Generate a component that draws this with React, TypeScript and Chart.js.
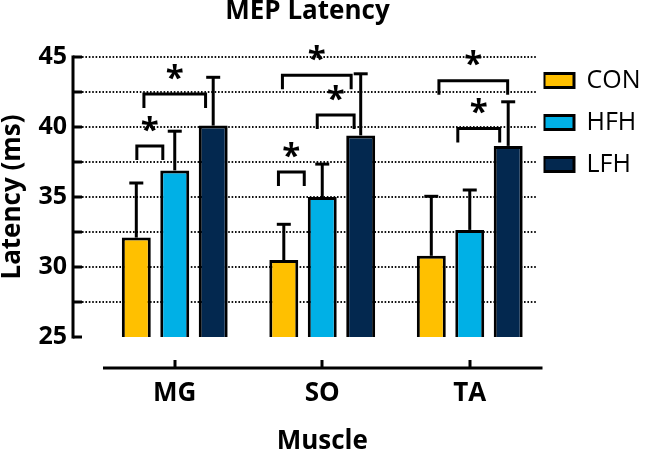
import React, { useEffect, useRef } from 'react';
import { Chart, registerables } from 'chart.js';

Chart.register(...registerables);

// ---------- data ----------
const categories = ['MG', 'SO', 'TA'];
const seriesNames = ['CON', 'HFH', 'LFH'];
const conMean = [32.1, 30.5, 30.8];
const hfhMean = [36.9, 35.0, 32.65];
const lfhMean = [40.1, 39.4, 38.65];
const conSD = [3.9, 2.55, 4.25];
const hfhSD = [2.8, 2.35, 2.85];
const lfhSD = [3.45, 4.4, 3.15];
const seriesColors = ['#FFC000', '#00B0E6', '#03284F'];

const yMin = 25;
const yMax = 45;
const yStep = 5;
const gridValues = [27.5, 30, 32.5, 35, 37.5, 40, 42.5, 45];
const axisTickValues = [25, 27.5, 30, 32.5, 35, 37.5, 40, 42.5, 45];

// significance brackets: category index, start/end offset (category units), bracket level
const sigCategory = [0, 0, 1, 1, 1, 2, 2];
const sigStart = [-0.257, -0.209, -0.297, -0.034, -0.27, -0.081, -0.209];
const sigEnd = [-0.081, 0.209, -0.122, 0.216, 0.196, 0.203, 0.257];
const sigLevel = [38.64, 42.36, 36.79, 40.86, 43.7, 39.9, 43.3];
const sigText = ['*', '*', '*', '*', '*', '*', '*'];
const sigLeg = 1.0;
const sigStarGap = 1.6;

const FONT = "'Open Sans', sans-serif";

const annotPlugin = {
  id: 'annot',
  beforeDatasetsDraw(chart: any) {
    const { ctx, chartArea } = chart;
    const x = chart.scales.x;
    const y = chart.scales.y;
    const axisX = chartArea.left - 28;
    ctx.save();
    // dotted grid
    ctx.strokeStyle = '#111';
    ctx.lineWidth = 2;
    ctx.setLineDash([1.6, 1.8]);
    for (const v of gridValues) {
      const py = Math.round(y.getPixelForValue(v));
      ctx.beginPath();
      ctx.moveTo(axisX + 9, py);
      ctx.lineTo(chartArea.right - 6, py);
      ctx.stroke();
    }
    ctx.setLineDash([]);
    // y axis
    ctx.strokeStyle = '#000';
    ctx.lineWidth = 3;
    ctx.beginPath();
    ctx.moveTo(axisX, y.getPixelForValue(yMax) - 1.5);
    ctx.lineTo(axisX, y.getPixelForValue(yMin) + 1.5);
    ctx.stroke();
    for (const v of axisTickValues) {
      const py = Math.round(y.getPixelForValue(v));
      ctx.beginPath();
      ctx.moveTo(axisX, py);
      ctx.lineTo(axisX + 9, py);
      ctx.stroke();
    }
    // x axis
    const axisY = chartArea.bottom + 31;
    ctx.beginPath();
    ctx.moveTo(chartArea.left + 2, axisY);
    ctx.lineTo(chartArea.right - 1, axisY);
    ctx.stroke();
    categories.forEach((_, i) => {
      const px = Math.round(x.getPixelForValue(i));
      ctx.beginPath();
      ctx.moveTo(px, axisY);
      ctx.lineTo(px, axisY - 8);
      ctx.stroke();
    });
    ctx.restore();
  },
  afterDatasetsDraw(chart: any) {
    const { ctx } = chart;
    const x = chart.scales.x;
    const y = chart.scales.y;
    const sds = [conSD, hfhSD, lfhSD];
    const means = [conMean, hfhMean, lfhMean];
    ctx.save();
    ctx.strokeStyle = '#000';
    ctx.fillStyle = '#000';
    ctx.lineWidth = 3;
    // error bars
    sds.forEach((sd, di) => {
      const meta = chart.getDatasetMeta(di);
      meta.data.forEach((el: any, i: number) => {
        const top = y.getPixelForValue(means[di][i] + sd[i]);
        ctx.beginPath();
        ctx.moveTo(el.x, el.y);
        ctx.lineTo(el.x, top);
        ctx.stroke();
        ctx.beginPath();
        ctx.moveTo(el.x - 7, top);
        ctx.lineTo(el.x + 7, top);
        ctx.stroke();
      });
    });
    // brackets + stars
    ctx.lineJoin = 'miter';
    ctx.font = `bold 33px ${FONT}`;
    ctx.textAlign = 'center';
    ctx.textBaseline = 'alphabetic';
    sigCategory.forEach((c, k) => {
      const xa = x.getPixelForValue(c + sigStart[k]);
      const xb = x.getPixelForValue(c + sigEnd[k]);
      const yt = y.getPixelForValue(sigLevel[k]);
      const yb = y.getPixelForValue(sigLevel[k] - sigLeg);
      ctx.beginPath();
      ctx.moveTo(xa, yb);
      ctx.lineTo(xa, yt);
      ctx.lineTo(xb, yt);
      ctx.lineTo(xb, yb);
      ctx.stroke();
      const cy = y.getPixelForValue(sigLevel[k] + sigStarGap);
      const m = ctx.measureText(sigText[k]);
      const base = cy + (m.actualBoundingBoxAscent - m.actualBoundingBoxDescent) / 2;
      ctx.fillText(sigText[k], (xa + xb) / 2, base);
    });
    ctx.restore();
  },
};

export default function App() {
  const ref = useRef<HTMLCanvasElement>(null);
  useEffect(() => {
    if (!ref.current) return;
    Chart.defaults.font.family = FONT;
    Chart.defaults.color = '#000';
    const means = [conMean, hfhMean, lfhMean];
    const chart = new Chart(ref.current, {
      type: 'bar',
      data: {
        labels: categories,
        datasets: seriesNames.map((name, i) => ({
          label: name,
          data: means[i],
          backgroundColor: seriesColors[i],
          borderColor: '#000',
          borderWidth: 3,
          borderSkipped: false,
          categoryPercentage: 0.782,
          barPercentage: 0.753,
        })),
      },
      options: {
        responsive: false,
        animation: false,
        devicePixelRatio: 1,
        layout: { padding: { left: -33.5, right: -2.5, top: 0, bottom: 0 } },
        plugins: {
          title: {
            display: true,
            text: 'MEP Latency',
            color: '#000',
            font: { family: FONT, size: 26, weight: 'bold' },
            padding: { top: -4.2, bottom: 30 },
          },
          legend: {
            position: 'right',
            align: 'start',
            fullSize: true,
            maxWidth: 105,
            title: { display: true, text: '', font: { size: 10, lineHeight: 1.2 }, padding: { top: 55.5, bottom: 0 } },
            labels: {
              boxWidth: 30,
              boxHeight: 14,
              padding: 0.5,
              color: '#000',
              font: { family: FONT, size: 25, lineHeight: 41.5 / 25 },
              generateLabels: (ch: any) =>
                Chart.defaults.plugins.legend.labels.generateLabels(ch).map((l: any) => ({
                  ...l,
                  text: [l.text],
                })),
            },
          },
          tooltip: { enabled: false },
        },
        scales: {
          x: {
            grid: { display: false, drawTicks: false },
            border: { display: false },
            ticks: { padding: 40.8, font: { family: FONT, size: 26, weight: 'bold' }, color: '#000' },
            title: {
              display: true,
              text: 'Muscle',
              color: '#000',
              font: { family: FONT, size: 26, weight: 'bold' },
              padding: { top: 0, bottom: -8.1 },
            },
            afterFit: (s: any) => {
              s.height = 112;
            },
          },
          y: {
            min: yMin,
            max: yMax,
            grid: { display: false, drawTicks: false },
            border: { display: false },
            ticks: { stepSize: yStep, padding: 34, font: { family: FONT, size: 25, weight: 'bold' }, color: '#000' },
            title: {
              display: true,
              text: 'Latency (ms)',
              color: '#000',
              font: { family: FONT, size: 26, weight: 'bold' },
              padding: { top: 30.8, bottom: 0 },
            },
            afterFit: (s: any) => {
              s.width = 134.5;
            },
          },
        },
      },
      plugins: [annotPlugin],
    } as any);
    return () => chart.destroy();
  }, []);
  return (
    <div style={{ position: 'absolute', left: 0, top: 0, width: 646, height: 449 }}>
      <canvas ref={ref} width={646} height={449} style={{ display: 'block' }} />
    </div>
  );
}
